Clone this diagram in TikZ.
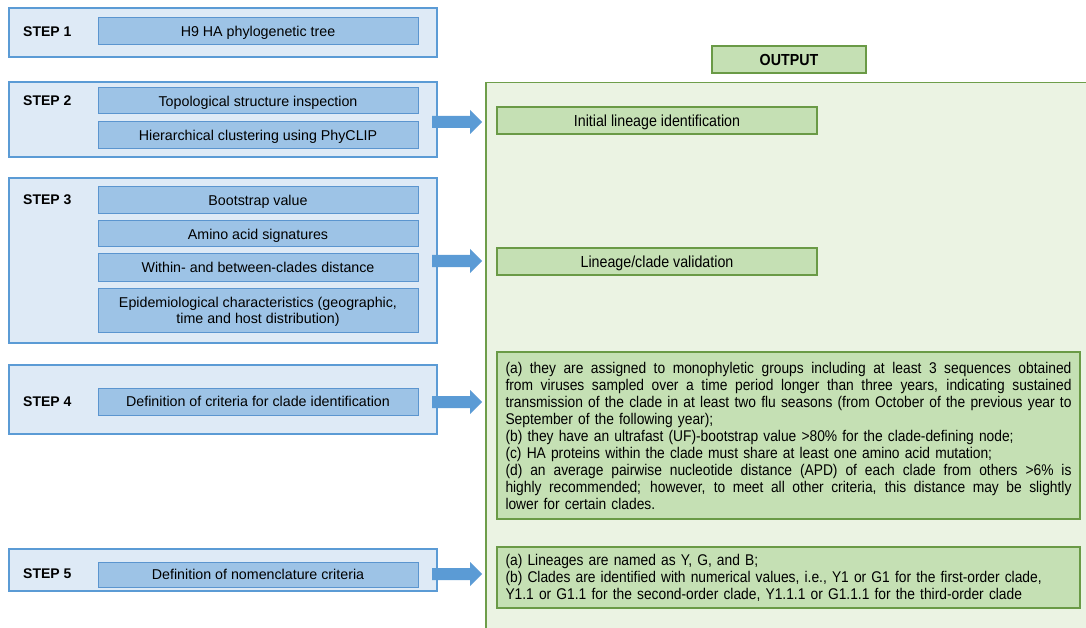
\documentclass[tikz,border=0pt]{standalone}
\usepackage{fontspec}
\setmainfont{Liberation Sans}
\newfontfamily\narrowfont[FakeStretch=0.89]{Liberation Sans}
\definecolor{stepfill}{HTML}{DEEAF6}
\definecolor{stepborder}{HTML}{5B9BD5}
\definecolor{innerfill}{HTML}{9DC3E6}
\definecolor{innerborder}{HTML}{5B95CF}
\definecolor{arrowcol}{HTML}{5B9BD5}
\definecolor{outfill}{HTML}{EBF3E3}
\definecolor{outborder}{HTML}{6E9E4A}
\definecolor{gfill}{HTML}{C5E0B4}
\definecolor{gborder}{HTML}{6A9A46}
\newcommand\jline[1]{\leavevmode\hbox to 566pt{\spaceskip=0.278em plus 1em minus 0.08em\relax #1}}
\tikzset{
  outerbox/.style={draw=stepborder, fill=stepfill, line width=1.5pt, inner sep=0pt, outer sep=0pt, anchor=north west},
  innerbox/.style={draw=innerborder, fill=innerfill, line width=1pt, inner sep=0pt, outer sep=0pt, anchor=north west,
    font=\fontsize{14.25}{16}\selectfont, text=black, align=center, text depth=0pt},
  steplabel/.style={inner sep=0pt, anchor=west, font=\bfseries\fontsize{14}{16}\selectfont},
  bigbox/.style={draw=outborder, fill=outfill, line width=1.5pt, inner sep=0pt, anchor=north west},
  greenbox/.style={draw=gborder, fill=gfill, line width=1.2pt, inner sep=0pt, outer sep=0pt, anchor=north west,
    font=\narrowfont\fontsize{16}{17.1}\selectfont, text=black, text depth=0pt},
  critbox/.style={draw=gborder, fill=gfill, line width=1.2pt, inner sep=0pt, outer sep=0pt, anchor=north west,
    text=black, text width=566pt, align=left, font=\narrowfont\fontsize{15.5}{17}\selectfont},
  blockarr/.pic={\fill[arrowcol] (0,-6) -- (38,-6) -- (38,-12) -- (50,0) -- (38,12) -- (38,6) -- (0,6) -- cycle;}
}
\begin{document}
\begin{tikzpicture}[x=1pt,y=-1pt]
\path[use as bounding box, clip] (0,0) rectangle (1086,628);
\fill[white] (0,0) rectangle (1086,628);
% output side
\node[bigbox, minimum width=610pt, minimum height=555pt] (big) at (485,82) {};
\node[greenbox, minimum width=154pt, minimum height=27pt, font=\narrowfont\bfseries\fontsize{16}{17}\selectfont] (out) at (712,46) {OUTPUT};
\node[greenbox, minimum width=320pt, minimum height=27pt] (o2) at (497,107) {Initial lineage identification};
\node[greenbox, minimum width=320pt, minimum height=27pt] (o3) at (497,248) {Lineage/clade validation};
\node[critbox, minimum width=583pt, minimum height=167pt] (o4) at (497,352) {%
\jline{(a) they are assigned to monophyletic groups including at least 3 sequences obtained}\\
\jline{from viruses sampled over a time period longer than three years, indicating sustained}\\
\jline{transmission of the clade in at least two flu seasons (from October of the previous year to}\\
September of the following year);\\
(b) they have an ultrafast (UF)-bootstrap value >80\% for the clade-defining node;\\
(c) HA proteins within the clade must share at least one amino acid mutation;\\
\jline{(d) an average pairwise nucleotide distance (APD) of each clade from others >6\% is}\\
\jline{highly recommended; however, to meet all other criteria, this distance may be slightly}\\
lower for certain clades.};
\node[critbox, minimum width=583pt, minimum height=61pt] (o5) at (497,547) {%
(a) Lineages are named as Y, G, and B;\\
(b) Clades are identified with numerical values, i.e., Y1 or G1 for the first-order clade,\\
Y1.1 or G1.1 for the second-order clade, Y1.1.1 or G1.1.1 for the third-order clade};
% step 1
\node[outerbox, minimum width=428pt, minimum height=49pt] (s1) at (9,8) {};
\node[innerbox, minimum width=320pt, minimum height=27pt] (s1a) at (98,18) {H9 HA phylogenetic tree};
\node[steplabel] (l1) at (23,32) {STEP 1};
% step 2
\node[outerbox, minimum width=428pt, minimum height=75pt] (s2) at (9,82) {};
\node[innerbox, minimum width=320pt, minimum height=26pt] (s2a) at (98,88) {Topological structure inspection};
\node[innerbox, minimum width=320pt, minimum height=27pt] (s2b) at (98,122) {Hierarchical clustering using PhyCLIP};
\node[steplabel] (l2) at (23,101) {STEP 2};
% step 3
\node[outerbox, minimum width=428pt, minimum height=165pt] (s3) at (9,178) {};
\node[innerbox, minimum width=320pt, minimum height=27pt] (s3a) at (98,187) {Bootstrap value};
\node[innerbox, minimum width=320pt, minimum height=26pt] (s3b) at (98,221) {Amino acid signatures};
\node[innerbox, minimum width=320pt, minimum height=27pt] (s3c) at (98,254) {Within- and between-clades distance};
\node[innerbox, minimum width=320pt, minimum height=44pt] (s3d) at (98,288) {Epidemiological characteristics (geographic,\\ time and host distribution)};
\node[steplabel] (l3) at (23,200) {STEP 3};
% step 4
\node[outerbox, minimum width=428pt, minimum height=69pt] (s4) at (9,365) {};
\node[innerbox, minimum width=320pt, minimum height=27pt] (s4a) at (98,388) {Definition of criteria for clade identification};
\node[steplabel] (l4) at (23,402) {STEP 4};
% step 5
\node[outerbox, minimum width=428pt, minimum height=42pt] (s5) at (9,549) {};
\node[innerbox, minimum width=320pt, minimum height=25pt] (s5a) at (98,562) {Definition of nomenclature criteria};
\node[steplabel] (l5) at (23,574) {STEP 5};
% arrows
\pic at (432,122) {blockarr};
\pic at (432,261) {blockarr};
\pic at (432,402) {blockarr};
\pic at (432,574) {blockarr};
\end{tikzpicture}
\end{document}
